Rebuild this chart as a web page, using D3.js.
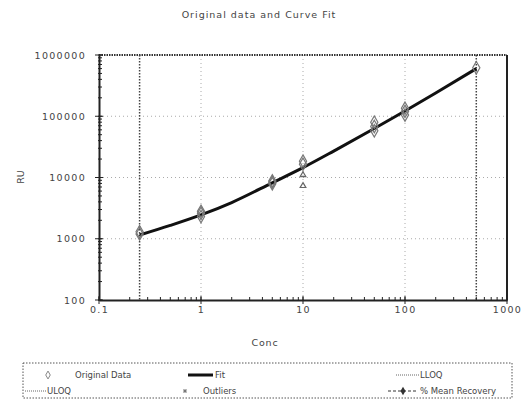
<!DOCTYPE html>
<html>
<head>
<meta charset="utf-8">
<script src="https://cdn.jsdelivr.net/npm/d3@7"></script>
<style>
  body { margin: 0; background: #fff; }
  text { font-family: "DejaVu Sans", sans-serif; fill: #444; }
</style>
</head>
<body>
<svg width="527" height="403"></svg>
<script>
// original data (conc, RU)
var dataConc = [0.25, 0.25, 1, 1, 1, 5, 5, 5, 10, 10, 50, 50, 50, 100, 100, 100, 500];
var dataRU = [1200, 1300, 2300, 2600, 2800, 7900, 8400, 8800, 16500, 18500, 58000, 68000, 80000, 105000, 120000, 135000, 620000];
// outliers
var outConc = [10, 10];
var outRU = [11000, 7300];
// fitted curve
var fitConc = [0.25, 0.5, 1, 2, 5, 10, 20, 50, 100, 200, 500];
var fitRU = [1150, 1650, 2450, 3900, 8200, 14500, 27000, 63000, 122000, 240000, 600000];
var lloq = 0.25, uloq = 500;
var xTicks = [0.1, 1, 10, 100, 1000];
var yTicks = [100, 1000, 10000, 100000, 1000000];

var svg = d3.select("svg");
var pLeft = 99, pRight = 507, pTop = 55, pBottom = 300;

var x = d3.scaleLog().domain([0.1, 1000]).range([pLeft, pRight]);
var y = d3.scaleLog().domain([100, 1000000]).range([pBottom, pTop]);

// title
svg.append("text")
  .attr("x", 259).attr("y", 18)
  .attr("text-anchor", "middle")
  .style("font-size", "9.5px").style("letter-spacing", "1px")
  .text("Original data and Curve Fit");

// grid
svg.selectAll(".vgrid").data([1, 10, 100]).enter().append("line")
  .attr("x1", function(d){return x(d)}).attr("x2", function(d){return x(d)})
  .attr("y1", pTop).attr("y2", pBottom)
  .attr("stroke", "#aaa").attr("stroke-width", 1).attr("stroke-dasharray", "1,3");
svg.selectAll(".hgrid").data([1000, 10000, 100000]).enter().append("line")
  .attr("x1", pLeft).attr("x2", pRight)
  .attr("y1", function(d){return y(d)}).attr("y2", function(d){return y(d)})
  .attr("stroke", "#aaa").attr("stroke-width", 1).attr("stroke-dasharray", "1,3");

// LLOQ / ULOQ
svg.selectAll(".qlim").data([lloq, uloq]).enter().append("line")
  .attr("x1", function(d){return x(d)}).attr("x2", function(d){return x(d)})
  .attr("y1", pTop).attr("y2", pBottom)
  .attr("stroke", "#444").attr("stroke-width", 1.5).attr("stroke-dasharray", "1.5,1.5");

// frame: top dotted, right solid
svg.append("line").attr("x1", pLeft).attr("x2", pRight).attr("y1", pTop).attr("y2", pTop)
  .attr("stroke", "#333").attr("stroke-width", 2).attr("stroke-dasharray", "1.5,1");
svg.append("line").attr("x1", pRight).attr("x2", pRight).attr("y1", pTop).attr("y2", pBottom)
  .attr("stroke", "#222").attr("stroke-width", 2);

// axes
var xAxis = d3.axisBottom(x).tickValues(xTicks).tickSize(0).tickPadding(6)
  .tickFormat(function(d){return String(d)});
var yAxis = d3.axisLeft(y).tickValues(yTicks).tickSize(0).tickPadding(13)
  .tickFormat(function(d){return String(d)});

var gx = svg.append("g").attr("transform", "translate(0," + pBottom + ")").call(xAxis);
var gy = svg.append("g").attr("transform", "translate(" + pLeft + ",0)").call(yAxis);
[gx, gy].forEach(function(g){
  g.select(".domain").attr("stroke", "#222").attr("stroke-width", 2);
  g.selectAll("text").style("font-size", "9.5px").style("letter-spacing", "1.3px").attr("fill", "#444");
});

// minor ticks
var xMinor = x.ticks();
svg.selectAll(".xminor").data(xMinor).enter().append("line")
  .attr("x1", function(d){return x(d)}).attr("x2", function(d){return x(d)})
  .attr("y1", pBottom - 3).attr("y2", pBottom + 1)
  .attr("stroke", "#222").attr("stroke-width", 1);
var yMinor = y.ticks();
svg.selectAll(".yminor").data(yMinor).enter().append("line")
  .attr("x1", pLeft - 1).attr("x2", pLeft + 3)
  .attr("y1", function(d){return y(d)}).attr("y2", function(d){return y(d)})
  .attr("stroke", "#222").attr("stroke-width", 1);
svg.selectAll(".ymajor").data(yTicks).enter().append("line")
  .attr("x1", pLeft - 4).attr("x2", pLeft + 4)
  .attr("y1", function(d){return y(d)}).attr("y2", function(d){return y(d)})
  .attr("stroke", "#222").attr("stroke-width", 1);
svg.selectAll(".xmajor").data(xTicks).enter().append("line")
  .attr("x1", function(d){return x(d)}).attr("x2", function(d){return x(d)})
  .attr("y1", pBottom - 4).attr("y2", pBottom + 4)
  .attr("stroke", "#222").attr("stroke-width", 1);

// axis titles
svg.append("text").attr("x", 265).attr("y", 346).attr("text-anchor", "middle")
  .style("font-size", "9.5px").style("letter-spacing", "0.8px").text("Conc");
svg.append("text").attr("transform", "translate(24,177) rotate(-90)")
  .attr("text-anchor", "middle").style("font-size", "9.5px").text("RU");

// fit curve
var fitPts = fitConc.map(function(c, i){return [c, fitRU[i]]});
var line = d3.line()
  .x(function(d){return x(d[0])})
  .y(function(d){return y(d[1])})
  .curve(d3.curveMonotoneX);
svg.append("path").datum(fitPts).attr("d", line)
  .attr("fill", "none").attr("stroke", "#111").attr("stroke-width", 3);

// original data: open diamonds
var diamond = d3.symbol().type(d3.symbolDiamond).size(45);
var pts = dataConc.map(function(c, i){return [c, dataRU[i]]});
svg.selectAll(".pt").data(pts).enter().append("path")
  .attr("d", diamond)
  .attr("transform", function(d){return "translate(" + x(d[0]) + "," + y(d[1]) + ")"})
  .attr("fill", "none").attr("stroke", "#777").attr("stroke-width", 1.2);

// outliers
var tri = d3.symbol().type(d3.symbolTriangle).size(14);
var outPts = outConc.map(function(c, i){return [c, outRU[i]]});
svg.selectAll(".out").data(outPts).enter().append("path")
  .attr("d", tri)
  .attr("transform", function(d){return "translate(" + x(d[0]) + "," + y(d[1]) + ")"})
  .attr("fill", "none").attr("stroke", "#666").attr("stroke-width", 1.2);

// legend
var lg = svg.append("g");
lg.append("rect").attr("x", 23).attr("y", 363).attr("width", 489).attr("height", 35)
  .attr("fill", "none").attr("stroke", "#555").attr("stroke-width", 1).attr("stroke-dasharray", "1.5,1.5");
var r1 = 375, r2 = 391, fs = "8.5px";
lg.append("path").attr("d", d3.symbol().type(d3.symbolDiamond).size(18))
  .attr("transform", "translate(48," + r1 + ")")
  .attr("fill", "none").attr("stroke", "#888");
lg.append("text").attr("x", 75).attr("y", r1 + 3).style("font-size", fs).text("Original Data");
lg.append("line").attr("x1", 188).attr("x2", 213).attr("y1", r1).attr("y2", r1)
  .attr("stroke", "#111").attr("stroke-width", 3);
lg.append("text").attr("x", 215).attr("y", r1 + 3).style("font-size", fs).text("Fit");
lg.append("line").attr("x1", 396).attr("x2", 419).attr("y1", r1).attr("y2", r1)
  .attr("stroke", "#666").attr("stroke-dasharray", "1,1");
lg.append("text").attr("x", 420).attr("y", r1 + 3).style("font-size", fs).text("LLOQ");
lg.append("line").attr("x1", 25).attr("x2", 46).attr("y1", r2).attr("y2", r2)
  .attr("stroke", "#666").attr("stroke-dasharray", "1,1");
lg.append("text").attr("x", 47).attr("y", r2 + 3).style("font-size", fs).text("ULOQ");
lg.append("path").attr("d", d3.symbol().type(d3.symbolCross).size(10))
  .attr("transform", "translate(185," + r2 + ") rotate(45)")
  .attr("fill", "#777");
lg.append("text").attr("x", 203).attr("y", r2 + 3).style("font-size", fs).text("Outliers");
lg.append("line").attr("x1", 388).attr("x2", 417).attr("y1", r2).attr("y2", r2)
  .attr("stroke", "#333").attr("stroke-width", 1).attr("stroke-dasharray", "3,2");
lg.append("path").attr("d", d3.symbol().type(d3.symbolDiamond).size(22))
  .attr("transform", "translate(403," + r2 + ")").attr("fill", "#333");
lg.append("text").attr("x", 420).attr("y", r2 + 3).style("font-size", fs).text("% Mean Recovery");
</script>
</body>
</html>
